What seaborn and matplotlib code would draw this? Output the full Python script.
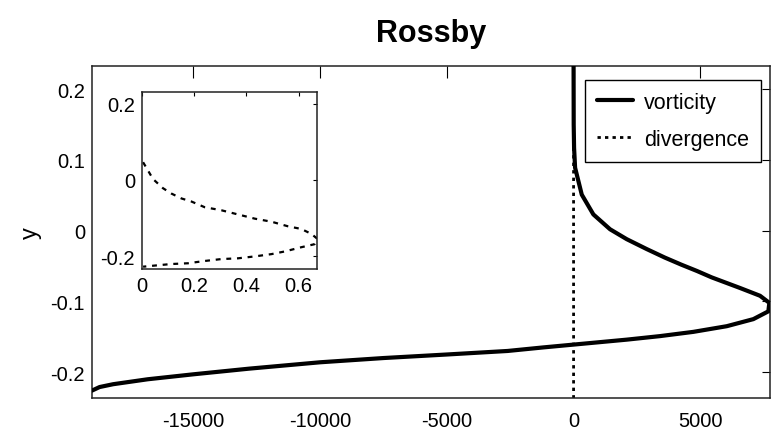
import matplotlib
matplotlib.use('Agg')
import matplotlib.pyplot as plt
import seaborn as sns
import pandas as pd

# vorticity profile (top -> bottom)
VORT_X = [0, 5, 20, 60, 323, 781, 1440, 2098, 2887, 3600, 4250, 4872, 5450, 6568, 7357, 7724,
          7684, 7093, 6043, 4726, 3412, 2098, 900, 0, -1200, -2600, -5000, -7500, -10000,
          -12800, -15000, -16800, -18166, -18700, -19000]
VORT_Y = [0.234, 0.15, 0.117, 0.089, 0.051, 0.023, 0.002, -0.012, -0.026, -0.038, -0.048, -0.057,
          -0.066, -0.081, -0.092, -0.102, -0.114, -0.125, -0.135, -0.143, -0.149, -0.154, -0.158,
          -0.161, -0.165, -0.170, -0.175, -0.180, -0.186, -0.195, -0.203, -0.210, -0.217, -0.221,
          -0.226]

# divergence profile
DIV_X = [0.004, 0.042, 0.080, 0.112, 0.151, 0.189, 0.240, 0.304, 0.368, 0.432, 0.496, 0.559,
         0.610, 0.649, 0.672, 0.661, 0.610, 0.547, 0.496, 0.432, 0.368, 0.304, 0.240, 0.176,
         0.112, 0.049, 0.004]
DIV_Y = [0.046, 0.002, -0.022, -0.036, -0.049, -0.057, -0.072, -0.080, -0.091, -0.102,
         -0.110, -0.122, -0.129, -0.142, -0.155, -0.169, -0.177, -0.188, -0.195, -0.201, -0.206,
         -0.208, -0.213, -0.219, -0.221, -0.225, -0.228]
# near-zero tails of the divergence, only visible in the main panel
DIV_TOP_X = [0.0]
DIV_TOP_Y = [0.234]
DIV_BOTTOM_X = [0.0]
DIV_BOTTOM_Y = [-0.2365]

X_TICKS = [-15000, -10000, -5000, 0, 5000]
Y_TICKS = [-0.2, -0.1, 0, 0.1, 0.2]
Y_TICK_LABELS = ['-0.2', '-0.1', '0', '0.1', '0.2']
INSET_X_TICKS = [0, 0.2, 0.4, 0.6]
INSET_X_LABELS = ['0', '0.2', '0.4', '0.6']
INSET_Y_TICKS = [-0.2, 0, 0.2]
INSET_Y_LABELS = ['-0.2', '0', '0.2']

sns.set_style('white')
plt.rcParams['font.family'] = ['Liberation Sans', 'DejaVu Sans']
plt.rcParams['axes.unicode_minus'] = False
plt.rcParams['text.color'] = 'black'
plt.rcParams['axes.labelcolor'] = 'black'
plt.rcParams['xtick.color'] = 'black'
plt.rcParams['ytick.color'] = 'black'

vort = pd.DataFrame({'v': VORT_X, 'y': VORT_Y})
div = pd.DataFrame({'d': DIV_X, 'y': DIV_Y})
div_full = pd.DataFrame({'d': DIV_TOP_X + DIV_X + DIV_BOTTOM_X,
                         'y': DIV_TOP_Y + DIV_Y + DIV_BOTTOM_Y})

fig = plt.figure(figsize=(7.77, 4.39), dpi=100)
ax = fig.add_axes([0.1184, 0.0911, 0.8726, 0.7574])

sns.lineplot(data=div_full, x='d', y='y', sort=False, estimator=None, ax=ax, color='black',
             linewidth=2, linestyle=(0, (1.2, 1.5)), label='divergence', zorder=2)
sns.lineplot(data=vort, x='v', y='y', sort=False, estimator=None, ax=ax, color='black',
             linewidth=3, label='vorticity', zorder=3)

ax.set_xlim(-19000, 7750)
ax.set_ylim(-0.2365, 0.2335)
ax.set_xticks(X_TICKS)
ax.set_xticklabels([str(t) for t in X_TICKS])
ax.set_yticks(Y_TICKS)
ax.set_yticklabels(Y_TICK_LABELS)
ax.set_xlabel('')
ax.set_ylabel('y', fontsize=17, color='black')
ax.yaxis.set_label_coords(-0.074, 0.5)
ax.set_title('Rossby', fontsize=22, fontweight='bold', pad=18, color='black')
ax.tick_params(axis='both', direction='in', top=True, right=True, labelsize=14.5, width=0.8,
               colors='black')
ax.tick_params(axis='x', length=8.5, pad=9)
ax.tick_params(axis='y', length=5.8, pad=5)
for s in ax.spines.values():
    s.set_color('#222222')
    s.set_linewidth(1.1)

handles, labels = ax.get_legend_handles_labels()
order = [labels.index('vorticity'), labels.index('divergence')]
leg = ax.legend([handles[i] for i in order], [labels[i] for i in order],
                loc='upper right', bbox_to_anchor=(0.9867, 0.9564), borderaxespad=0,
                fontsize=15.5, handlelength=1.7, handletextpad=0.5, labelspacing=0.75,
                borderpad=0.55, fancybox=False, framealpha=1, edgecolor='black')
leg.get_frame().set_linewidth(1.0)
for t in leg.get_texts():
    t.set_color('black')

ins = fig.add_axes([0.1828, 0.385, 0.2252, 0.403])
sns.lineplot(data=div, x='d', y='y', sort=False, estimator=None, ax=ins, color='black',
             linewidth=1.6, linestyle=(0, (2.2, 2.6)))
ins.set_xlim(0, 0.6705)
ins.set_ylim(-0.234, 0.23)
ins.set_xticks(INSET_X_TICKS)
ins.set_xticklabels(INSET_X_LABELS)
ins.set_yticks(INSET_Y_TICKS)
ins.set_yticklabels(INSET_Y_LABELS)
ins.set_xlabel('')
ins.set_ylabel('')
ins.tick_params(axis='both', direction='in', top=True, right=True, labelsize=14.5, length=3,
                width=0.8, pad=5, colors='black')
for s in ins.spines.values():
    s.set_color('#222222')
    s.set_linewidth(1.1)

fig.savefig('out.png', dpi=100)
